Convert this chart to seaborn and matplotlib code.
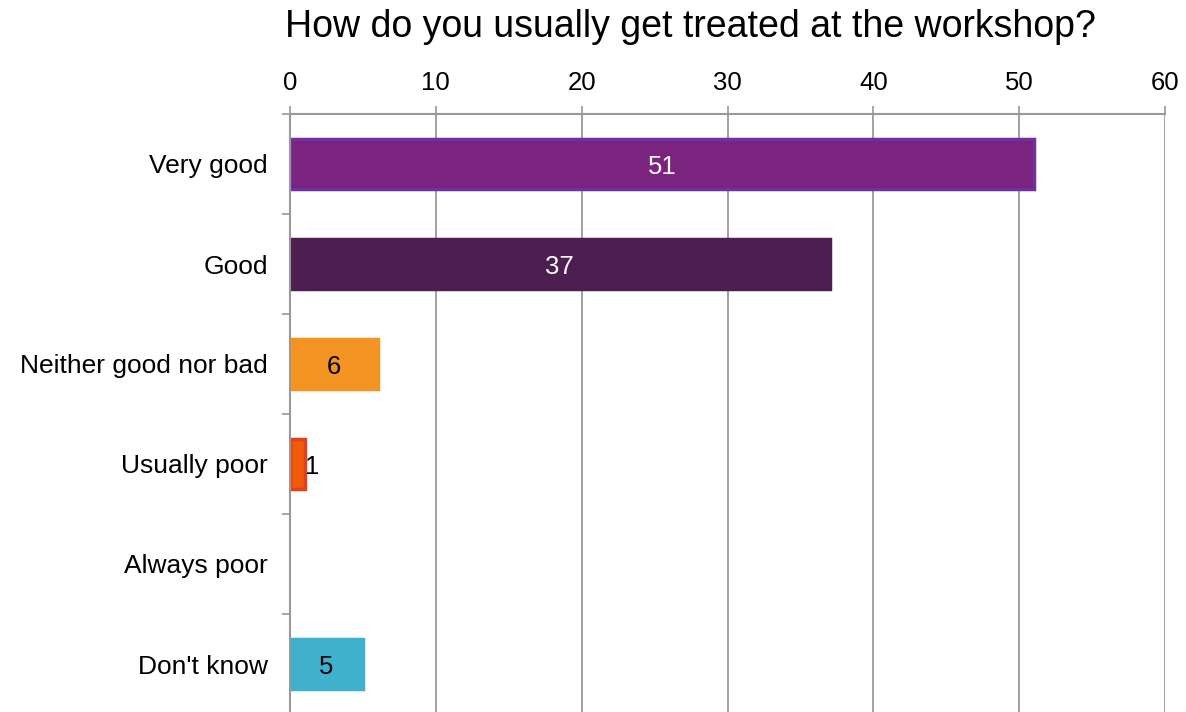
import matplotlib
matplotlib.use("Agg")
import matplotlib.pyplot as plt
import seaborn as sns
import pandas as pd
from matplotlib.ticker import FixedLocator

categories = ["Very good", "Good", "Neither good nor bad", "Usually poor", "Always poor", "Don't know"]
counts = [51, 37, 6, 1, 0, 5]
fill_colors = ["#7A237F", "#4D1E50", "#F39321", "#F05A0A", "#F05A0A", "#3FB1CD"]
edge_colors = ["#7030A0", "#4D1E50", "#F39321", "#E0401A", "#E0401A", "#3FB1CD"]
label_colors = ["white", "white", "black", "black", "black", "black"]
x_ticks = [0, 10, 20, 30, 40, 50, 60]
title = "How do you usually get treated at the workshop?"

sns.set_theme(style="white")
plt.rcParams["font.family"] = ["Liberation Sans", "DejaVu Sans"]

df = pd.DataFrame({"category": categories, "count": counts})

fig = plt.figure(figsize=(11.86, 7.12), dpi=100)
ax = fig.add_axes([290 / 1186, -2 / 712, 875 / 1186, 600 / 712])

sns.barplot(data=df, y="category", x="count", hue="category",
            palette=fill_colors, order=categories, hue_order=categories,
            width=0.5, legend=False, ax=ax, saturation=1)

for patch, ec, val in zip(ax.patches, edge_colors, counts):
    if val == 0:
        patch.set_linewidth(0)
        continue
    patch.set_edgecolor(ec)
    patch.set_linewidth(2.5)

ax.set_xlim(0, 60)
ax.set_ylim(5.5, -0.5)
ax.xaxis.tick_top()
ax.xaxis.set_label_position("top")
ax.set_xticks(x_ticks)
ax.set_xticklabels([str(t) for t in x_ticks], fontsize=18.5, color="black")
ax.set_xlabel("")
ax.set_ylabel("")
ax.tick_params(axis="x", which="major", direction="out", length=6, width=1.2,
               color="#999999", top=True, bottom=False, pad=8)

ax.set_yticks(range(len(categories)))
ax.set_yticklabels(categories, fontsize=19, color="black")
ax.yaxis.set_minor_locator(FixedLocator([i + 0.5 for i in range(-1, len(categories))]))
ax.tick_params(axis="y", which="major", length=0, pad=16)
ax.tick_params(axis="y", which="minor", direction="out", length=6, width=1.2,
               color="#999999", left=True)

ax.grid(axis="x", color="#999999", linewidth=1.3)
ax.grid(axis="y", visible=False)
ax.set_axisbelow(True)
for side in ["bottom", "right"]:
    ax.spines[side].set_visible(False)
for side in ["top", "left"]:
    ax.spines[side].set_color("#999999")
    ax.spines[side].set_linewidth(1.5)

# value labels: inside the bar when it is wide enough, just after it otherwise
for i, (patch, val) in enumerate(zip(ax.patches, counts)):
    if val == 0:
        continue
    yc = patch.get_y() + patch.get_height() / 2
    if val >= 3:
        ax.text(val / 2, yc, str(val), ha="center", va="center_baseline",
                fontsize=18.5, color=label_colors[i])
    else:
        ax.text(val + 0.05, yc, str(val), ha="left", va="center_baseline",
                fontsize=18.5, color=label_colors[i])

fig.text(690 / 1186, 1 - 27 / 712, title, ha="center", va="center",
         fontsize=27, color="black")

fig.savefig("out.png", dpi=100)
